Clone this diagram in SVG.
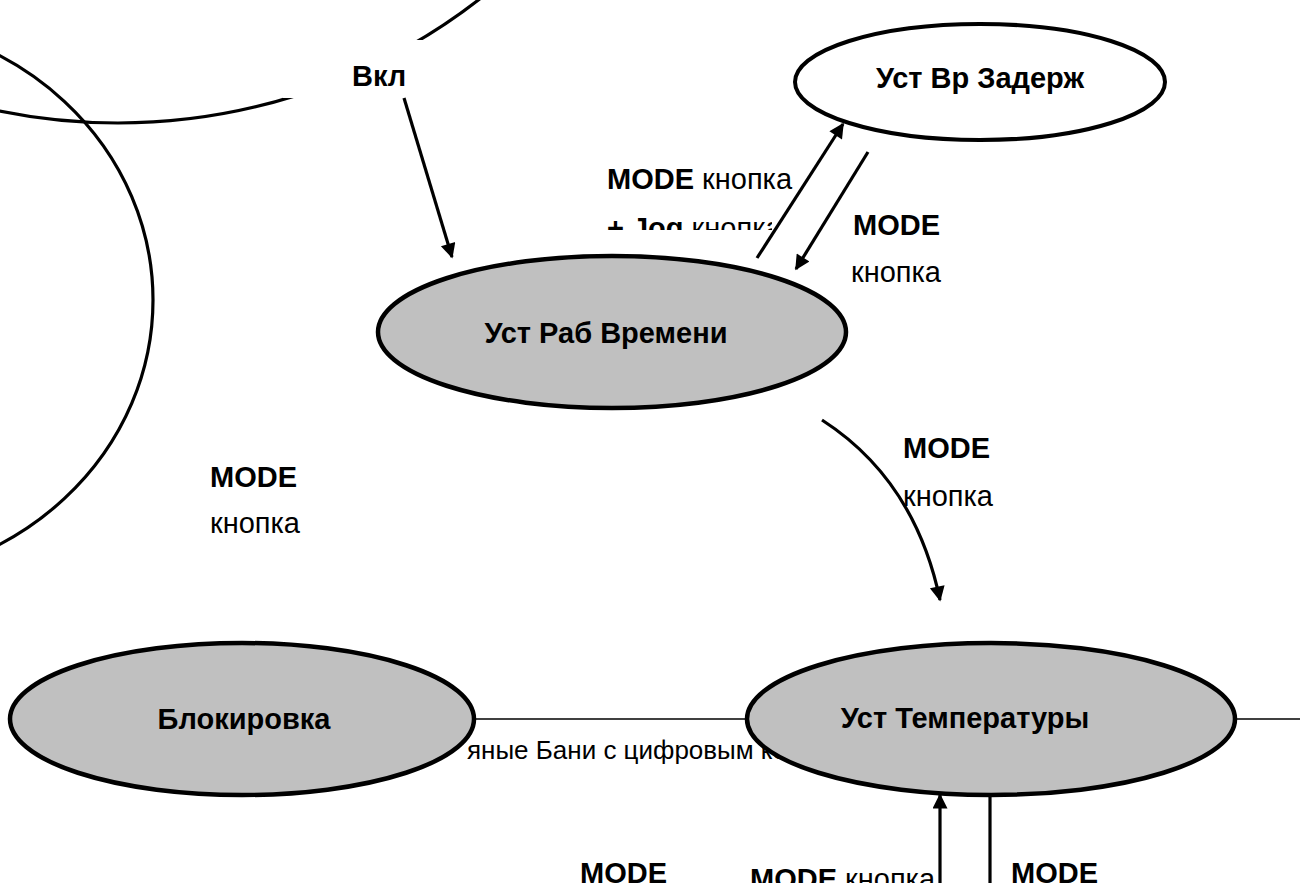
<svg xmlns="http://www.w3.org/2000/svg" width="1300" height="883" viewBox="0 0 1300 883">
<style>
.lb{font-family:"Liberation Sans",Arial,sans-serif;font-size:29px;fill:#000}
.b{font-weight:bold}
.nt{font-family:"Liberation Sans",Arial,sans-serif;font-size:29px;font-weight:bold;fill:#000;text-anchor:middle}
.ln{stroke:#000;stroke-width:3.2;fill:none}
.arr{stroke:#000;stroke-width:3.2;fill:none;marker-end:url(#ah)}
.gray{fill:#c0c0c0;stroke:#000;stroke-width:4.5}
.white{fill:#fff;stroke:#000;stroke-width:4}
</style>
<defs>
<marker id="ah" viewBox="0 0 10 10" refX="9" refY="5" markerWidth="21" markerHeight="15" markerUnits="userSpaceOnUse" orient="auto">
<path d="M0,0 L10,5 L0,10 z" fill="#000"/>
</marker>
<clipPath id="cJog"><rect x="590" y="150" width="182" height="80"/></clipPath>
<clipPath id="cBot"><rect x="740" y="840" width="198" height="50"/></clipPath>
</defs>
<rect width="1300" height="883" fill="#fff"/>
<g id="background-text">
<line x1="300" y1="719" x2="1300" y2="719" stroke="#000" stroke-width="1.6"/>
<text x="467" y="759" font-family="'Liberation Sans',Arial,sans-serif" font-size="25" textLength="320" lengthAdjust="spacingAndGlyphs">яные Бани с цифровым ко</text>
</g>
<g id="labels">
<text class="lb" x="607" y="189"><tspan class="b">MODE</tspan> кнопка</text>
<g clip-path="url(#cJog)"><text class="lb" x="607" y="238"><tspan class="b">+ Jog</tspan> кнопка</text></g>
<text class="lb b" x="853" y="235">MODE</text>
<text class="lb" x="851" y="282">кнопка</text>
<text class="lb b" x="903" y="458">MODE</text>
<text class="lb" x="903" y="506">кнопка</text>
<text class="lb b" x="210" y="487">MODE</text>
<text class="lb" x="210" y="533">кнопка</text>
<text class="lb b" x="580" y="883">MODE</text>
<g clip-path="url(#cBot)"><text class="lb" x="750" y="889"><tspan class="b">MODE</tspan> кнопка</text></g>
<text class="lb b" x="1011" y="883">MODE</text>
</g>
<g id="connectors">
<ellipse class="ln" cx="-150" cy="300" rx="303" ry="281"/>
<circle class="ln" cx="118" cy="-466" r="589"/>
<rect x="283" y="40" width="140" height="58" fill="#fff"/>
<text class="lb b" x="352" y="86">Вкл</text>
<line class="arr" x1="404" y1="98" x2="452" y2="257"/>
<line class="arr" x1="757" y1="258" x2="843" y2="124"/>
<line class="arr" x1="868" y1="152" x2="796" y2="269"/>
<path class="arr" d="M822,420 Q915,480 940,600"/>
<line class="arr" x1="940" y1="883" x2="940" y2="795"/>
<line class="ln" x1="990" y1="790" x2="990" y2="883"/>
</g>
<g id="node-zaderzh">
<ellipse class="white" cx="980" cy="82" rx="185" ry="58"/>
<text class="nt" x="980" y="88">Уст Вр Задерж</text>
</g>
<g id="node-rab">
<ellipse class="gray" cx="612" cy="332" rx="234" ry="76"/>
<text class="nt" x="606" y="343">Уст Раб Времени</text>
</g>
<g id="node-blok">
<ellipse class="gray" cx="242" cy="719" rx="232" ry="76"/>
<text class="nt" x="244" y="729">Блокировка</text>
</g>
<g id="node-temp">
<ellipse class="gray" cx="991" cy="719" rx="244" ry="76"/>
<text class="nt" x="965" y="728">Уст Температуры</text>
</g>
</svg>
